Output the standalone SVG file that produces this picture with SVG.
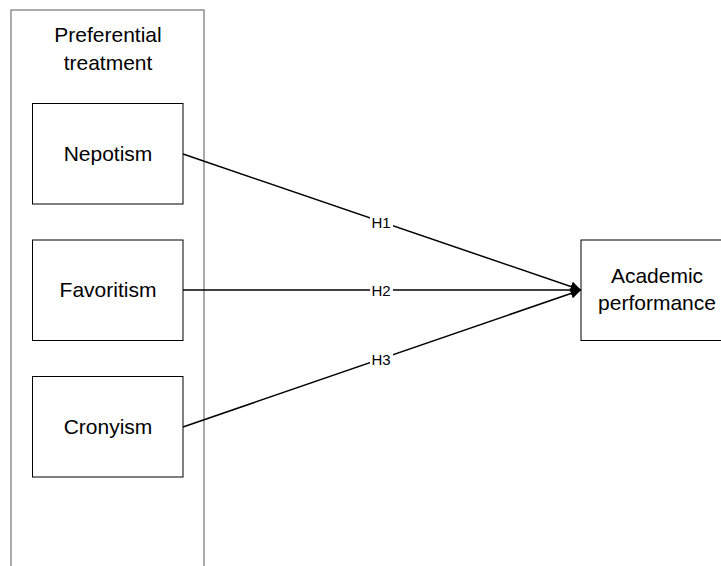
<svg xmlns="http://www.w3.org/2000/svg" width="721" height="566" viewBox="0 0 721 566">
<style>
.box{fill:#fff;stroke:#000;stroke-width:1}
.outer{fill:#fff;stroke:#7f7f7f;stroke-width:1.3}
.t{font-family:"Liberation Sans",Arial,sans-serif;font-size:21px;fill:#000;text-anchor:middle}
.h{font-family:"Liberation Sans",Arial,sans-serif;font-size:15px;fill:#000;text-anchor:middle}
.c{stroke:#000;stroke-width:1.5;fill:none}
</style>
<defs>
<marker id="arr" viewBox="0 0 10 10" refX="10" refY="5" markerWidth="7" markerHeight="7" orient="auto" markerUnits="strokeWidth">
<path d="M0,0 L10,5 L0,10 z" fill="#000"/>
</marker>
</defs>
<g id="preferential-treatment">
<rect class="outer" x="11" y="10" width="193" height="570"/>
<text class="t" x="108" y="42">Preferential</text>
<text class="t" x="108" y="70">treatment</text>
</g>
<g id="nepotism">
<rect class="box" x="32.5" y="103.5" width="150.5" height="100.5"/>
<text class="t" x="108" y="161">Nepotism</text>
</g>
<g id="favoritism">
<rect class="box" x="32.5" y="240" width="150.5" height="100.5"/>
<text class="t" x="108" y="297">Favoritism</text>
</g>
<g id="cronyism">
<rect class="box" x="32.5" y="376.5" width="150.5" height="100.5"/>
<text class="t" x="108" y="434">Cronyism</text>
</g>
<g id="academic-performance">
<rect class="box" x="581" y="240" width="150" height="100.5"/>
<text class="t" x="657" y="283">Academic</text>
<text class="t" x="657" y="310">performance</text>
</g>
<g id="connectors">
<line class="c" x1="183" y1="154" x2="581" y2="290" marker-end="url(#arr)"/>
<line class="c" x1="183" y1="290" x2="581" y2="290" marker-end="url(#arr)"/>
<line class="c" x1="183" y1="427" x2="581" y2="290" marker-end="url(#arr)"/>
<rect x="370" y="214" width="23" height="15" fill="#fff"/>
<text class="h" x="381" y="228">H1</text>
<rect x="370" y="283" width="23" height="15" fill="#fff"/>
<text class="h" x="381" y="296">H2</text>
<rect x="370" y="351" width="23" height="15" fill="#fff"/>
<text class="h" x="381" y="365">H3</text>
</g>
</svg>
